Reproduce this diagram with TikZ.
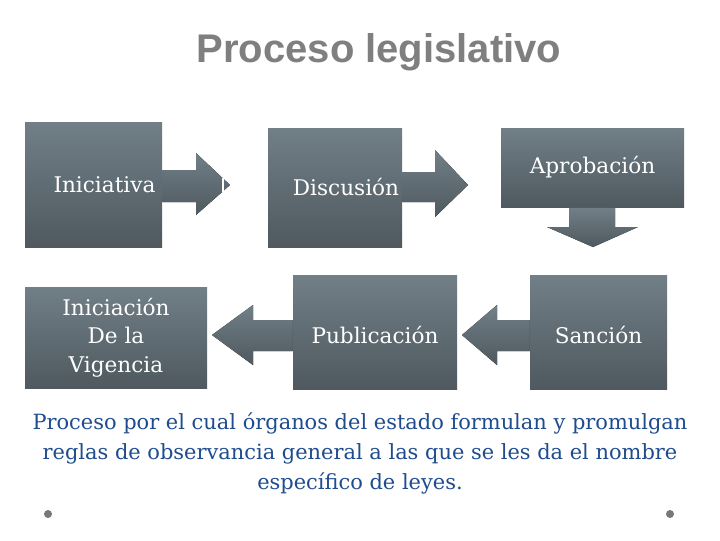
\documentclass[tikz,border=0pt]{standalone}
\usepackage{fontspec}
\setmainfont{DejaVu Serif}
\newfontfamily\titlefont{Liberation Sans}
\usetikzlibrary{positioning}

\definecolor{boxtop}{RGB}{113,127,135}
\definecolor{boxbot}{RGB}{79,89,95}
\definecolor{titlegray}{RGB}{127,127,127}
\definecolor{textblue}{RGB}{30,76,142}
\definecolor{dotgray}{RGB}{120,120,120}
\definecolor{bgedge}{RGB}{214,214,214}
\pgfdeclareradialshading{slidebg}{\pgfpoint{0bp}{0bp}}{color(0bp)=(white); color(13bp)=(white); color(25bp)=(bgedge); color(50bp)=(bgedge)}

\begin{document}
\begin{tikzpicture}[x=0.75pt,y=-0.75pt,
    stage/.style={rectangle,top color=boxtop,bottom color=boxbot,draw=none,inner sep=0pt},
    stagetext/.style={text=white,font=\fontsize{16.2}{19}\selectfont,align=center},
    blockarrow/.style={top color=boxtop,bottom color=boxbot,draw=none}
  ]
    \useasboundingbox (0,0) rectangle (720,540);
    % background
    \begin{scope}
      \clip (0,0) rectangle (720,540);
      \shade[shading=slidebg] (360,250) ellipse (1018 and 764);
    \end{scope}

    % title
    \node[font=\titlefont\bfseries\fontsize{30}{34}\selectfont,text=titlegray] (title) at (379,52) {Proceso legislativo};

    % top row
    \node[stage,minimum width=137*0.75pt,minimum height=125*0.75pt] (ini) at (93.5,184.5) {};
    \node[stage,minimum width=134*0.75pt,minimum height=119*0.75pt] (dis) at (335,187.5) {};
    \node[stage,minimum width=183*0.75pt,minimum height=79*0.75pt] (apr) at (592.5,167.5) {};

    % bottom row
    \node[stage,minimum width=182*0.75pt,minimum height=101*0.75pt] (vig) at (116,337.5) {};
    \node[stage,minimum width=164*0.75pt,minimum height=114*0.75pt] (pub) at (375,332) {};
    \node[stage,minimum width=137*0.75pt,minimum height=114*0.75pt] (san) at (598.5,332) {};

    % arrows
    \fill[blockarrow] (ini.east |- 0,170) -- (196,170) -- (196,153) -- (230,185)
      -- (196,215) -- (196,202) -- (ini.east |- 0,202) -- cycle;
    \draw[white,line width=0.8] (223,178) -- (223,192);
    \fill[blockarrow] (dis.east |- 0,172) -- (435,172) -- (435,150) -- (468,185)
      -- (435,217) -- (435,202) -- (dis.east |- 0,202) -- cycle;
    \fill[blockarrow] (apr.south -| 569,0) -- (569,227) -- (547,227) -- (593,247)
      -- (638,227) -- (615,227) -- (apr.south -| 615,0) -- cycle;
    \fill[blockarrow] (san.west |- 0,320) -- (497,320) -- (497,305) -- (462,335)
      -- (497,365) -- (497,351) -- (san.west |- 0,351) -- cycle;
    \fill[blockarrow] (pub.west |- 0,320) -- (253,320) -- (253,305) -- (212,335)
      -- (253,365) -- (253,351) -- (pub.west |- 0,351) -- cycle;

    % box labels
    \node[stagetext] (ini-t) at ([xshift=8.25pt]ini.center) {Iniciativa};
    \node[stagetext] (dis-t) at ([xshift=8.25pt]dis.center) {Discusión};
    \node[stagetext] (apr-t) at (apr.center) {Aprobación};
    \node[stagetext,font=\fontsize{16.2}{21.5}\selectfont] (vig-t) at (vig.center) {Iniciación\\De la\\Vigencia};
    \node[stagetext] (pub-t) at ([yshift=-2.25pt]pub.center) {Publicación};
    \node[stagetext] (san-t) at ([yshift=-2.25pt]san.center) {Sanción};

    % description
    \node[text=textblue,font=\fontsize{15.7}{22.5}\selectfont,align=center] (desc) at (360,453)
      {Proceso por el cual órganos del estado formulan y promulgan\\
       reglas de observancia general a las que se les da el nombre\\
       específico de leyes.};

    % dots
    \fill[dotgray] (48,514) circle (4);
    \fill[dotgray] (670,514) circle (4);
\end{tikzpicture}
\end{document}
